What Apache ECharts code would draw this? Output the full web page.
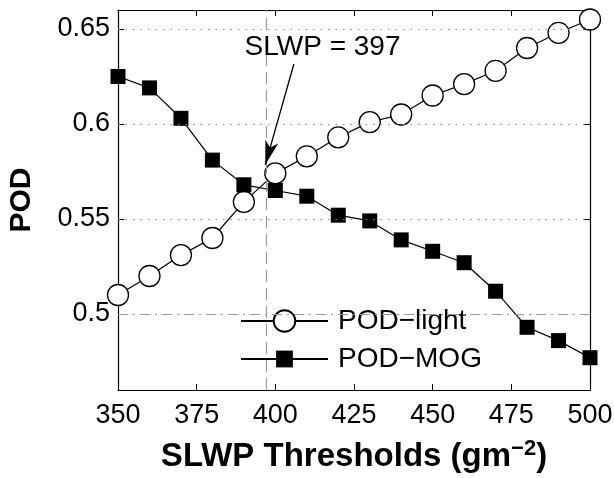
<!DOCTYPE html>
<html><head><meta charset="utf-8">
<script src="https://cdn.jsdelivr.net/npm/echarts@6/dist/echarts.min.js"></script>
<style>html,body{margin:0;padding:0;background:#fff}#c{width:614px;height:478px}</style>
</head><body><div id="c"></div>
<script>
const thresholds = [350,360,370,380,390,400,410,420,430,440,450,460,470,480,490,500];
const podLight = [0.510,0.520,0.531,0.540,0.559,0.574,0.583,0.593,0.601,0.605,0.615,0.621,0.628,0.640,0.648,0.655];
const podMog   = [0.625,0.619,0.603,0.581,0.568,0.565,0.562,0.552,0.549,0.539,0.533,0.527,0.512,0.493,0.486,0.477];
const seriesNames = ['POD\u2212light', 'POD\u2212MOG'];
const yTicks = [0.5,0.55,0.6,0.65];
const gridValues = [0.55,0.6,0.65];
const refPod = 0.5;
const slwpCross = 397;
const annotationText = 'SLWP = 397';

const FONT = "'Liberation Sans', Arial, sans-serif";
const chart = echarts.init(document.getElementById('c'), null, {renderer:'canvas'});

const axisLineStyle = {show:true, lineStyle:{color:'#000', width:1.2}};
const tick = {show:true, inside:true, length:6, lineStyle:{color:'#000', width:1}};

const option = {
  animation:false,
  backgroundColor:'#fff',
  grid:{left:118, right:24, top:10, bottom:88, containLabel:false, outerBoundsMode:'none'},
  xAxis:[{
    type:'value', min:350, max:500, interval:25, position:'bottom',
    axisLine:axisLineStyle, axisTick:tick, splitLine:{show:false},
    axisLabel:{color:'#000', fontSize:27, fontFamily:FONT, margin:12},
    name:'SLWP Thresholds (gm{sup|\u22122})', nameLocation:'middle', nameGap:48,
    nameTextStyle:{color:'#000', fontSize:33, fontWeight:'bold', fontFamily:FONT, lineHeight:38,
      rich:{sup:{fontSize:22, fontWeight:'bold', fontFamily:FONT, color:'#000', verticalAlign:'top', lineHeight:21}}}
  },{
    type:'value', min:350, max:500, interval:25, position:'top',
    axisLine:axisLineStyle, axisTick:tick, axisLabel:{show:false}, splitLine:{show:false}
  }],
  yAxis:[{
    type:'value', min:0.46, max:0.66, position:'left',
    axisLine:axisLineStyle,
    axisTick:Object.assign({customValues:yTicks}, tick),
    axisLabel:{customValues:yTicks, color:'#000', fontSize:27, fontFamily:FONT, margin:8},
    splitLine:{show:false},
    name:'POD', nameLocation:'middle', nameGap:81,
    nameTextStyle:{color:'#000', fontSize:30, fontWeight:'bold', fontFamily:FONT, lineHeight:30}
  },{
    type:'value', min:0.46, max:0.66, position:'right',
    axisLine:axisLineStyle,
    axisTick:Object.assign({customValues:yTicks}, tick),
    axisLabel:{show:false}, splitLine:{show:false}
  }],
  legend:[{
    data:[seriesNames[0]], orient:'vertical', left:240, top:307, padding:0,
    itemWidth:87, itemHeight:27,
    textStyle:{color:'#000', fontSize:28, fontFamily:FONT, padding:[0,0,0,5]}
  },{
    data:[seriesNames[1]], orient:'vertical', left:240, top:345, padding:0,
    itemWidth:87, itemHeight:21,
    textStyle:{color:'#000', fontSize:28, fontFamily:FONT, padding:[0,0,0,5]}
  }],
  series:[{
    name:'guides', type:'line', data:[], silent:true,
    markLine:{
      silent:true, symbol:['none','none'], label:{show:false}, animation:false,
      data:[
        ...gridValues.map(v => ({yAxis:v, lineStyle:{color:'#888', type:[1.5,6], width:1.2}})),
        {yAxis:refPod, lineStyle:{color:'#999', type:[10,5,2,5], width:1.2}},
        {xAxis:slwpCross, lineStyle:{color:'#999', type:[12,6], width:1.2}}
      ]
    }
  },{
    name:seriesNames[0], type:'line',
    data:thresholds.map((x,i)=>[x,podLight[i]]),
    symbol:'circle', symbolSize:21, z:3,
    lineStyle:{color:'#000', width:1.2},
    itemStyle:{color:'#fff', borderColor:'#000', borderWidth:1.3}
  },{
    name:seriesNames[1], type:'line',
    data:thresholds.map((x,i)=>[x,podMog[i]]),
    symbol:'rect', symbolSize:15, z:4,
    lineStyle:{color:'#000', width:1.2},
    itemStyle:{color:'#000'},
    markLine:{
      silent:true, symbol:['none','arrow'], symbolSize:[10,24], label:{show:false},
      data:[[{coord:[405.9,0.6316]},{coord:[396.8,0.5785]}]],
      lineStyle:{color:'#000', type:'solid', width:1.3}
    },
    markPoint:{
      silent:true, symbol:'circle', symbolSize:0,
      data:[{coord:[415,0.6405]}],
      label:{show:true, position:'inside', formatter:annotationText, color:'#000', fontSize:28, fontFamily:FONT}
    }
  }]
};
chart.setOption(option);
</script></body></html>
